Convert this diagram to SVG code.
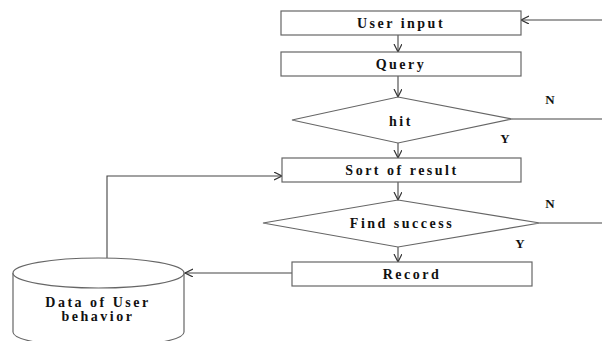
<svg xmlns="http://www.w3.org/2000/svg" width="602" height="341" viewBox="0 0 602 341">
<defs>
<style>
.box{fill:#fff;stroke:#666;stroke-width:1.2}
.ln{fill:none;stroke:#444;stroke-width:1.1}
text{font-family:"Liberation Serif","DejaVu Serif",serif;font-weight:bold;fill:#111;text-anchor:middle}
.t{font-size:14px;letter-spacing:2.5px}
.lbl{font-size:13px}
</style>
<marker id="arr" markerUnits="userSpaceOnUse" markerWidth="10" markerHeight="10" refX="8" refY="4" orient="auto">
<path d="M0,0 L8,4 L0,8" fill="none" stroke="#333" stroke-width="1.2"/>
</marker>
</defs>
<rect width="602" height="341" fill="#fff"/>
<g id="connectors">
<path class="ln" d="M602,20 L521,20" marker-end="url(#arr)"/>
<path class="ln" d="M398,35 L398,52" marker-end="url(#arr)"/>
<path class="ln" d="M398,76 L398,97" marker-end="url(#arr)"/>
<path class="ln" d="M512,119 L602,119"/>
<path class="ln" d="M398,143 L398,158" marker-end="url(#arr)"/>
<path class="ln" d="M398,182 L398,200" marker-end="url(#arr)"/>
<path class="ln" d="M540,223 L602,223"/>
<path class="ln" d="M398,247 L398,262" marker-end="url(#arr)"/>
<path class="ln" d="M292,273 L185,273" marker-end="url(#arr)"/>
<path class="ln" d="M107,258 L107,176 L282,176" marker-end="url(#arr)"/>
<text class="lbl" x="550" y="104">N</text>
<text class="lbl" x="505" y="143">Y</text>
<text class="lbl" x="550" y="208">N</text>
<text class="lbl" x="520" y="248">Y</text>
</g>
<g id="user-input">
<rect class="box" x="281" y="11" width="240" height="24"/>
<text class="t" x="401" y="28">User input</text>
</g>
<g id="query">
<rect class="box" x="281" y="52" width="240" height="24"/>
<text class="t" x="401" y="69">Query</text>
</g>
<g id="hit">
<polygon class="box" points="398,97 512,119 398,143 292,120"/>
<text class="t" x="401" y="126">hit</text>
</g>
<g id="sort-of-result">
<rect class="box" x="282" y="158" width="239" height="24"/>
<text class="t" x="402" y="175">Sort of result</text>
</g>
<g id="find-success">
<polygon class="box" points="398,200 540,223 398,247 263,223"/>
<text class="t" x="402" y="228">Find success</text>
</g>
<g id="record">
<rect class="box" x="292" y="262" width="240" height="24"/>
<text class="t" x="412" y="279">Record</text>
</g>
<g id="data-of-user-behavior">
<path class="box" d="M13,273 L13,332 A85.5,15 0 0 0 184,332 L184,273"/>
<ellipse class="box" cx="98.5" cy="273" rx="85.5" ry="15"/>
<text class="t" x="98" y="307">Data of User</text>
<text class="t" x="98" y="321">behavior</text>
</g>
</svg>
